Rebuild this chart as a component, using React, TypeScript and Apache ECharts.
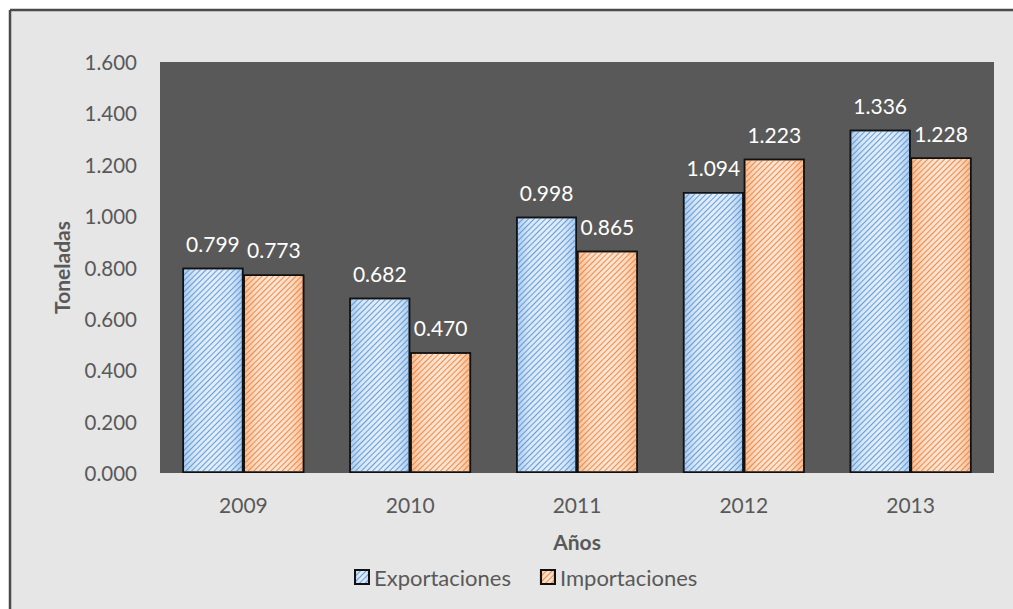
import React, { useEffect, useRef } from "react";
import * as echarts from "echarts";

const years = ["2009", "2010", "2011", "2012", "2013"];
const exportaciones = [0.799, 0.682, 0.998, 1.094, 1.336];
const importaciones = [0.773, 0.47, 0.865, 1.223, 1.228];
const yTicks = { min: 0, max: 1.6, interval: 0.2 };

const FONT = "Lato, 'Noto Sans', sans-serif";
const TXT = "#595959";

function blueFill() {
  return new echarts.graphic.LinearGradient(0, 0, 1, 0, [
    { offset: 0, color: "#aecbec" },
    { offset: 0.2, color: "#d8e6f6" },
    { offset: 0.5, color: "#e4eefa" },
    { offset: 0.8, color: "#d8e6f6" },
    { offset: 1, color: "#aecbec" },
  ]);
}
function orangeFill() {
  return new echarts.graphic.LinearGradient(0, 0, 1, 0, [
    { offset: 0, color: "#f7bd94" },
    { offset: 0.2, color: "#fbdcc6" },
    { offset: 0.5, color: "#fde5d5" },
    { offset: 0.8, color: "#fbdcc6" },
    { offset: 1, color: "#f7bd94" },
  ]);
}

export default function App() {
  const ref = useRef<HTMLDivElement>(null);
  useEffect(() => {
    if (!ref.current) return;
    document.body.style.margin = "0";
    document.body.style.overflow = "hidden";
    const chart = echarts.init(ref.current, null, { renderer: "svg" });
    const label = {
      show: true,
      position: "top",
      distance: 14,
      color: "#ffffff",
      fontFamily: FONT,
      fontSize: 21,
      formatter: (p: any) => Number(p.value).toFixed(3),
    };
    const decal = (color: string) => ({
      symbol: "rect",
      symbolSize: 1,
      color,
      backgroundColor: "rgba(0,0,0,0)",
      dashArrayX: [1, 0],
      dashArrayY: [1, 3],
      rotation: -Math.PI / 4,
    });
    chart.setOption({
      animation: false,
      backgroundColor: "#ffffff",
      textStyle: { fontFamily: FONT },
      graphic: [
        {
          type: "rect",
          z: -10,
          silent: true,
          shape: { x: 10, y: 10, width: 1100, height: 700 },
          style: { fill: "#e6e6e6" },
        },
        {
          type: "line",
          z: -9,
          silent: true,
          shape: { x1: 10, y1: 10, x2: 1100, y2: 10 },
          style: { stroke: "#4a4a4a", lineWidth: 2.5 },
        },
        {
          type: "line",
          z: -9,
          silent: true,
          shape: { x1: 10, y1: 10, x2: 10, y2: 700 },
          style: { stroke: "#4a4a4a", lineWidth: 2.5 },
        },
      ],
      grid: {
        left: 160,
        right: 19,
        top: 62,
        bottom: 136,
        show: true,
        backgroundColor: "#595959",
        borderWidth: 0,
        containLabel: false,
      },
      legend: {
        left: 349,
        top: 561,
        itemWidth: 14,
        itemHeight: 14,
        itemGap: 29,
        icon: "rect",
        textStyle: { color: TXT, fontSize: 22, fontFamily: FONT },
        data: ["Exportaciones", "Importaciones"],
      },
      xAxis: {
        type: "category",
        data: years,
        name: "Años",
        nameLocation: "middle",
        nameGap: 58,
        nameTextStyle: { color: TXT, fontSize: 21, fontWeight: "bold", fontFamily: FONT },
        axisLine: { show: false },
        axisTick: { show: false },
        axisLabel: { color: TXT, fontSize: 21, margin: 21, fontFamily: FONT },
        splitLine: { show: false },
      },
      yAxis: {
        type: "value",
        min: yTicks.min,
        max: yTicks.max,
        interval: yTicks.interval,
        name: "Toneladas",
        nameLocation: "middle",
        nameRotate: 90,
        nameGap: 88,
        nameTextStyle: { color: TXT, fontSize: 21, fontWeight: "bold", fontFamily: FONT },
        axisLine: { show: false },
        axisTick: { show: false },
        splitLine: { show: false },
        axisLabel: {
          color: TXT,
          fontSize: 20.5,
          margin: 23,
          fontFamily: FONT,
          formatter: (v: number) => v.toFixed(3),
        },
      },
      series: [
        {
          name: "Exportaciones",
          type: "bar",
          data: exportaciones,
          barGap: "0%",
          barCategoryGap: "27%",
          label,
          itemStyle: {
            color: blueFill(),
            borderColor: "#111111",
            borderWidth: 1.5,
            decal: decal("rgba(75,145,214,0.85)"),
          },
        },
        {
          name: "Importaciones",
          type: "bar",
          data: importaciones,
          barGap: "0%",
          barCategoryGap: "27%",
          label,
          itemStyle: {
            color: orangeFill(),
            borderColor: "#111111",
            borderWidth: 1.5,
            decal: decal("rgba(237,125,49,0.85)"),
          },
        },
      ],
    });
    return () => chart.dispose();
  }, []);
  return (
    <div
      ref={ref}
      style={{ position: "fixed", left: 0, top: 0, width: 1013, height: 609 }}
    />
  );
}
